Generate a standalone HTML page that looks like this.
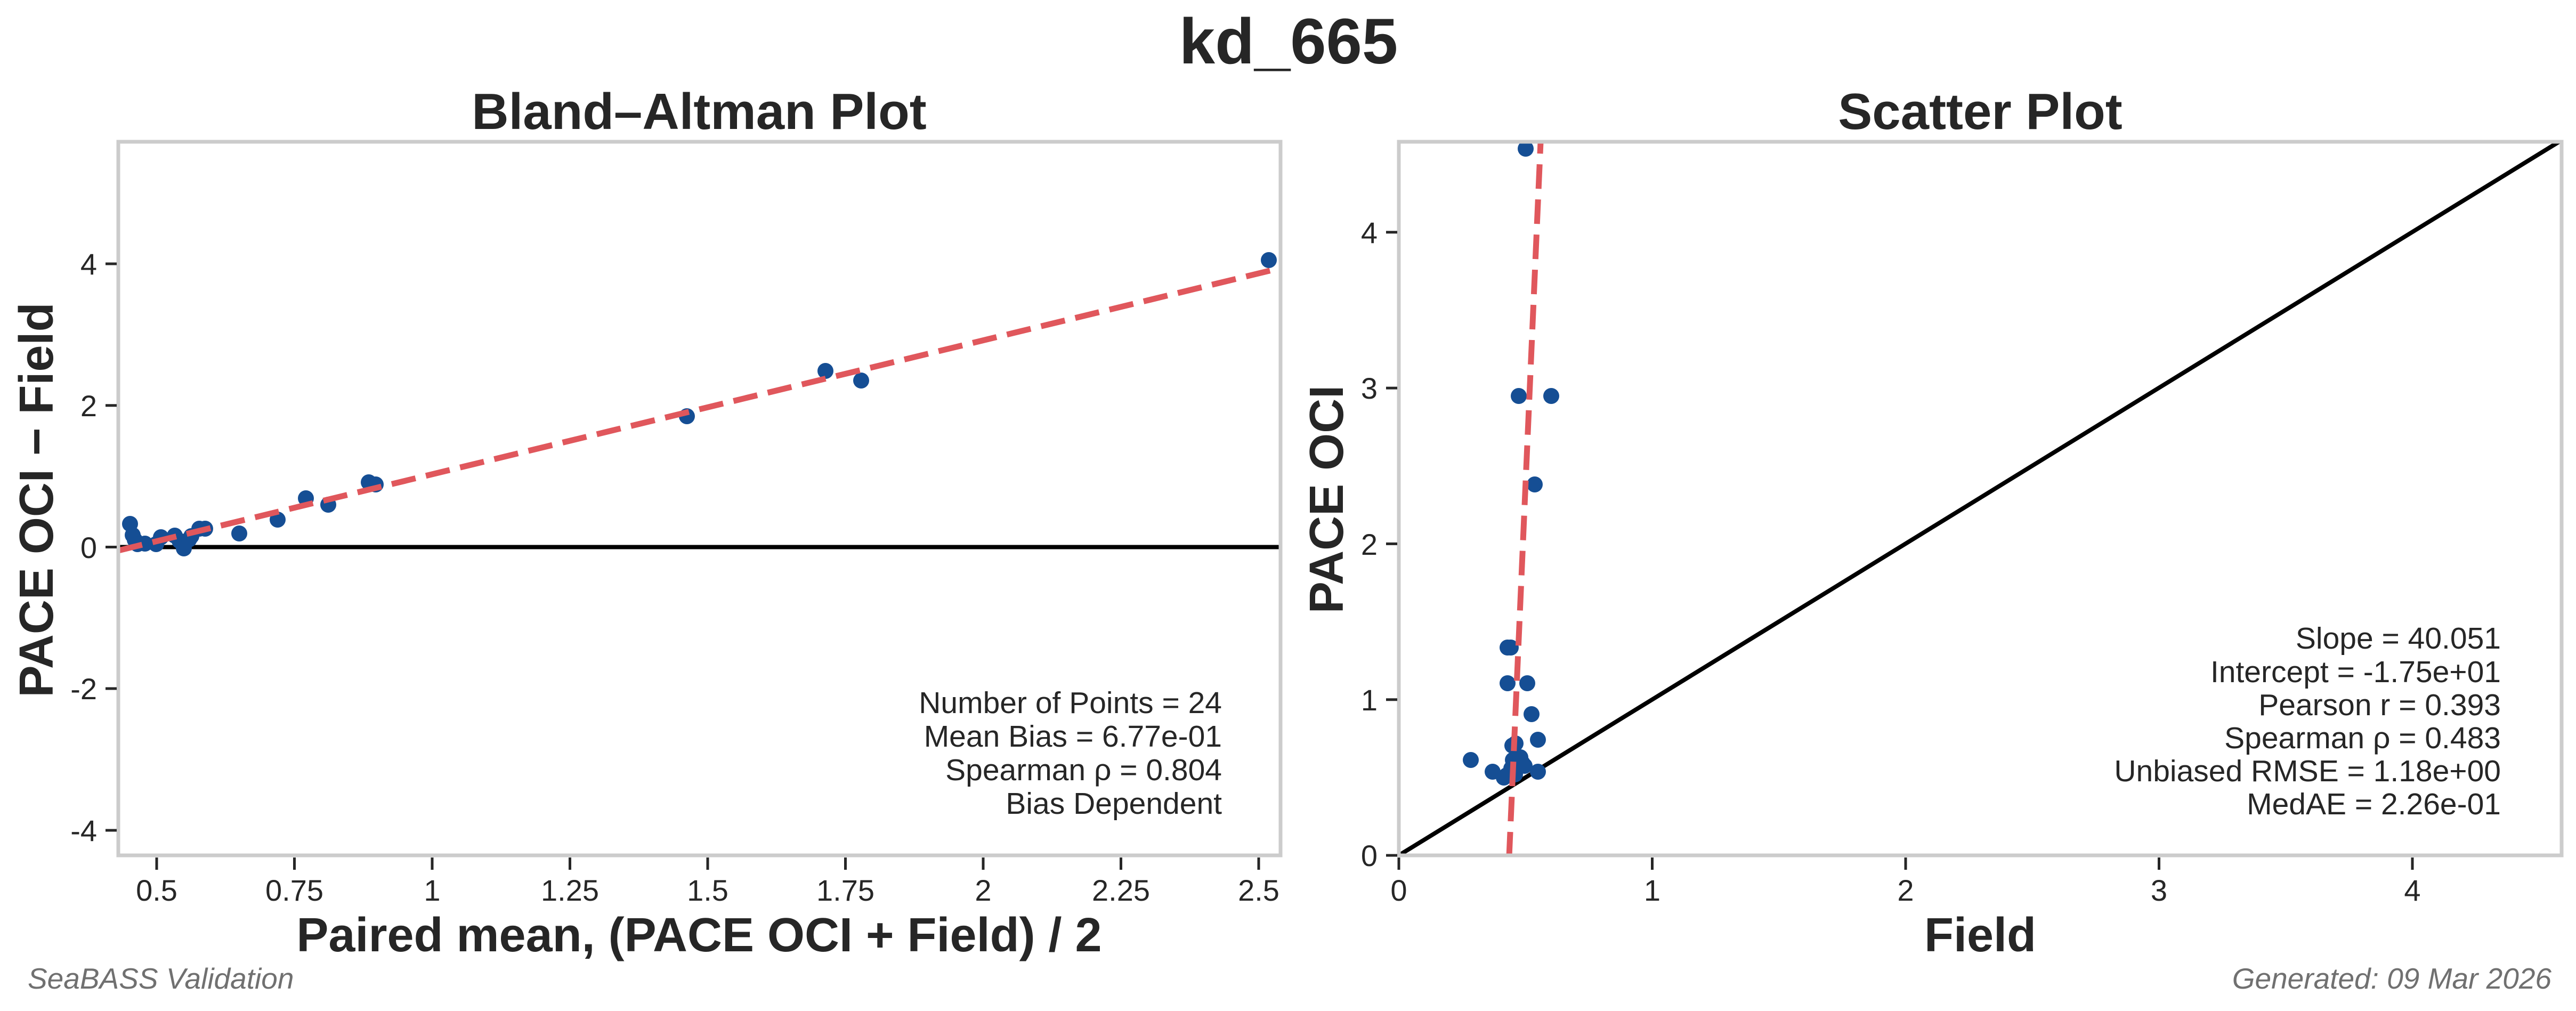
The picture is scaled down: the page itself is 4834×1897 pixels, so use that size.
<!DOCTYPE html>
<html><head><meta charset="utf-8"><style>
html,body{margin:0;padding:0;background:#fff;}
svg{display:block;}
text{font-family:"Liberation Sans",Arial,sans-serif;fill:#262626;}
</style></head><body>
<svg width="4834" height="1897" viewBox="0 0 4834 1897" xmlns="http://www.w3.org/2000/svg">
<defs>
<clipPath id="c1"><rect x="222" y="266" width="2181" height="1339"/></clipPath>
<clipPath id="c2"><rect x="2625" y="266" width="2182" height="1339"/></clipPath>
</defs>
<rect width="4834" height="1897" fill="#fff"/>
<text x="2418" y="119" font-size="121" font-weight="bold" text-anchor="middle">kd_665</text>

<!-- LEFT PLOT -->
<text x="1312" y="242" font-size="96" font-weight="bold" text-anchor="middle">Bland–Altman Plot</text>
<g clip-path="url(#c1)">
<line x1="222" y1="1026.5" x2="2403" y2="1026.5" stroke="#000" stroke-width="8"/>
<g fill="#154e94">
<circle cx="244" cy="983" r="15"/><circle cx="249" cy="1004" r="15"/><circle cx="253" cy="1013" r="15"/>
<circle cx="258" cy="1021" r="15"/><circle cx="272" cy="1020" r="15"/><circle cx="293" cy="1021" r="15"/>
<circle cx="302" cy="1008" r="15"/><circle cx="328" cy="1005" r="15"/><circle cx="337" cy="1015" r="15"/>
<circle cx="345" cy="1029" r="15"/><circle cx="355" cy="1012" r="15"/><circle cx="359" cy="1006" r="15"/>
<circle cx="374" cy="992" r="15"/><circle cx="385" cy="992" r="15"/><circle cx="449" cy="1001" r="15"/>
<circle cx="521" cy="975" r="15"/><circle cx="574" cy="935" r="15"/><circle cx="616" cy="947" r="15"/>
<circle cx="692" cy="905" r="15"/><circle cx="705" cy="909" r="15"/><circle cx="1289" cy="781" r="15"/>
<circle cx="1549" cy="696" r="15"/><circle cx="1616" cy="714" r="15"/><circle cx="2381" cy="488" r="15"/>
</g>
<line x1="222" y1="1033" x2="2403" y2="503" stroke="#e0575c" stroke-width="11" stroke-dasharray="46,20"/>
</g>
<rect x="222" y="266" width="2181" height="1339" fill="none" stroke="#cccccc" stroke-width="7"/>
<g stroke="#262626" stroke-width="5">
<line x1="198" y1="495" x2="219" y2="495"/><line x1="198" y1="760.7" x2="219" y2="760.7"/>
<line x1="198" y1="1026.5" x2="219" y2="1026.5"/><line x1="198" y1="1292" x2="219" y2="1292"/>
<line x1="198" y1="1558" x2="219" y2="1558"/>
<line x1="294" y1="1609" x2="294" y2="1632"/><line x1="552.5" y1="1609" x2="552.5" y2="1632"/>
<line x1="811" y1="1609" x2="811" y2="1632"/><line x1="1069.5" y1="1609" x2="1069.5" y2="1632"/>
<line x1="1328" y1="1609" x2="1328" y2="1632"/><line x1="1586.5" y1="1609" x2="1586.5" y2="1632"/>
<line x1="1845" y1="1609" x2="1845" y2="1632"/><line x1="2103.5" y1="1609" x2="2103.5" y2="1632"/>
<line x1="2362" y1="1609" x2="2362" y2="1632"/>
</g>
<g font-size="56" text-anchor="end">
<text x="182" y="515">4</text><text x="182" y="781">2</text><text x="182" y="1047">0</text>
<text x="182" y="1312">-2</text><text x="182" y="1578">-4</text>
</g>
<g font-size="56" text-anchor="middle">
<text x="294" y="1690">0.5</text><text x="552.5" y="1690">0.75</text><text x="811" y="1690">1</text>
<text x="1069.5" y="1690">1.25</text><text x="1328" y="1690">1.5</text><text x="1586.5" y="1690">1.75</text>
<text x="1845" y="1690">2</text><text x="2103.5" y="1690">2.25</text><text x="2362" y="1690">2.5</text>
</g>
<text x="1312" y="1785" font-size="90" font-weight="bold" text-anchor="middle">Paired mean, (PACE OCI + Field) / 2</text>
<text transform="translate(99,938) rotate(-90)" font-size="90" font-weight="bold" text-anchor="middle">PACE OCI − Field</text>
<g font-size="57" text-anchor="end">
<text x="2293" y="1338">Number of Points = 24</text>
<text x="2293" y="1401">Mean Bias = 6.77e-01</text>
<text x="2293" y="1464">Spearman ρ = 0.804</text>
<text x="2293" y="1527">Bias Dependent</text>
</g>

<!-- RIGHT PLOT -->
<text x="3716" y="242" font-size="96" font-weight="bold" text-anchor="middle">Scatter Plot</text>
<g clip-path="url(#c2)">
<line x1="2625" y1="1605" x2="4807" y2="263" stroke="#000" stroke-width="8"/>
<g fill="#154e94">
<circle cx="2863" cy="279" r="15"/><circle cx="2850" cy="743" r="15"/><circle cx="2911" cy="743" r="15"/>
<circle cx="2880" cy="909" r="15"/><circle cx="2829" cy="1215" r="15"/><circle cx="2835" cy="1215" r="15"/>
<circle cx="2829" cy="1282" r="15"/><circle cx="2866" cy="1282" r="15"/><circle cx="2874" cy="1340" r="15"/>
<circle cx="2886" cy="1388" r="15"/><circle cx="2838" cy="1399" r="15"/><circle cx="2844" cy="1395" r="15"/>
<circle cx="2760" cy="1426" r="15"/><circle cx="2801" cy="1448" r="15"/><circle cx="2822" cy="1459" r="15"/>
<circle cx="2839" cy="1426" r="15"/><circle cx="2853" cy="1421" r="15"/><circle cx="2861" cy="1437" r="15"/>
<circle cx="2849" cy="1439" r="15"/><circle cx="2836" cy="1442" r="15"/><circle cx="2886" cy="1448" r="15"/>
<circle cx="2827" cy="1455" r="15"/><circle cx="2857" cy="1432" r="15"/><circle cx="2843" cy="1453" r="15"/>
</g>
<line x1="2832" y1="1607" x2="2891" y2="267" stroke="#e0575c" stroke-width="11" stroke-dasharray="46,20"/>
</g>
<rect x="2625" y="266" width="2182" height="1339" fill="none" stroke="#cccccc" stroke-width="7"/>
<g stroke="#262626" stroke-width="5">
<line x1="2601" y1="1605" x2="2622" y2="1605"/><line x1="2601" y1="1312.7" x2="2622" y2="1312.7"/>
<line x1="2601" y1="1020.4" x2="2622" y2="1020.4"/><line x1="2601" y1="728.1" x2="2622" y2="728.1"/>
<line x1="2601" y1="435.8" x2="2622" y2="435.8"/>
<line x1="2625" y1="1609" x2="2625" y2="1632"/><line x1="3100.5" y1="1609" x2="3100.5" y2="1632"/>
<line x1="3576" y1="1609" x2="3576" y2="1632"/><line x1="4051.5" y1="1609" x2="4051.5" y2="1632"/>
<line x1="4527" y1="1609" x2="4527" y2="1632"/>
</g>
<g font-size="56" text-anchor="end">
<text x="2585" y="1625">0</text><text x="2585" y="1333">1</text><text x="2585" y="1041">2</text>
<text x="2585" y="748">3</text><text x="2585" y="456">4</text>
</g>
<g font-size="56" text-anchor="middle">
<text x="2625" y="1690">0</text><text x="3100.5" y="1690">1</text><text x="3576" y="1690">2</text>
<text x="4051.5" y="1690">3</text><text x="4527" y="1690">4</text>
</g>
<text x="3716" y="1785" font-size="90" font-weight="bold" text-anchor="middle">Field</text>
<text transform="translate(2520,937) rotate(-90)" font-size="90" font-weight="bold" text-anchor="middle">PACE OCI</text>
<g font-size="57" text-anchor="end">
<text x="4693" y="1217">Slope = 40.051</text>
<text x="4693" y="1280">Intercept = -1.75e+01</text>
<text x="4693" y="1342">Pearson r = 0.393</text>
<text x="4693" y="1404">Spearman ρ = 0.483</text>
<text x="4693" y="1466">Unbiased RMSE = 1.18e+00</text>
<text x="4693" y="1528">MedAE = 2.26e-01</text>
</g>

<text x="52" y="1855" font-size="55" font-style="italic" style="fill:#707070">SeaBASS Validation</text>
<text x="4788" y="1855" font-size="55" font-style="italic" text-anchor="end" style="fill:#707070">Generated: 09 Mar 2026</text>
</svg>
</body></html>
